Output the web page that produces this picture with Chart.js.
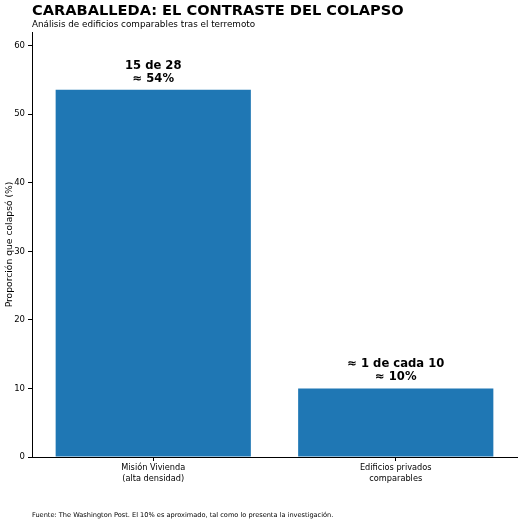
<!DOCTYPE html>
<html><head><meta charset="utf-8">
<script src="https://cdn.jsdelivr.net/npm/chart.js@4"></script>
<style>html,body{margin:0;padding:0;background:#fff;}#wrap{width:521px;height:524px;}</style>
</head><body><div id="wrap"><canvas id="c" width="521" height="524"></canvas></div>
<script>
const categories = [["Misión Vivienda", "(alta densidad)"], ["Edificios privados", "comparables"]];
const values = [15 / 28 * 100, 10];
const barLabels = [["15 de 28", "≈ 54%"], ["≈ 1 de cada 10", "≈ 10%"]];
const yTicks = [0, 10, 20, 30, 40, 50, 60];
const titleText = "CARABALLEDA: EL CONTRASTE DEL COLAPSO";
const subtitleText = "Análisis de edificios comparables tras el terremoto";
const yTitle = "Proporción que colapsó (%)";
const footerText = "Fuente: The Washington Post. El 10% es aproximado, tal como lo presenta la investigación.";

const FONT = "'DejaVu Sans', sans-serif";

const textPlugin = {
  id: 'texts',
  afterDraw(chart) {
    const ctx = chart.ctx;
    const area = chart.chartArea;
    ctx.save();
    ctx.fillStyle = '#000';
    ctx.textBaseline = 'middle';
    ctx.textAlign = 'left';
    ctx.font = "bold 14.6px " + FONT;
    ctx.fillText(titleText, 32, 11.5);
    ctx.font = "8.8px " + FONT;
    ctx.fillText(subtitleText, 32, 25);
    ctx.font = "6.6px " + FONT;
    ctx.fillText(footerText, 32, 515);
    // y title
    ctx.save();
    ctx.translate(9.5, (area.top + area.bottom) / 2);
    ctx.rotate(-Math.PI / 2);
    ctx.textAlign = 'center';
    ctx.font = "9.2px " + FONT;
    ctx.fillText(yTitle, 0, 0);
    ctx.restore();
    // bar annotations
    const meta = chart.getDatasetMeta(0);
    ctx.textAlign = 'center';
    ctx.font = "bold 11.6px " + FONT;
    meta.data.forEach((bar, i) => {
      const lines = barLabels[i];
      const n = lines.length;
      lines.forEach((ln, j) => {
        ctx.fillText(ln, bar.x, bar.y - 11 - (n - 1 - j) * 13);
      });
    });
    ctx.restore();
  }
};

new Chart(document.getElementById('c'), {
  type: 'bar',
  data: {
    labels: categories,
    datasets: [{
      data: values,
      backgroundColor: '#1f77b4',
      borderWidth: 0,
      barPercentage: 0.805,
      categoryPercentage: 1.0
    }]
  },
  options: {
    responsive: false,
    animation: false,
    devicePixelRatio: 1,
    layout: { padding: { top: 32, right: 4, left: 0, bottom: 0 } },
    plugins: { legend: { display: false }, tooltip: { enabled: false }, title: { display: false } },
    scales: {
      x: {
        grid: { display: true, offset: false, drawOnChartArea: false, drawTicks: true, tickLength: 4, color: '#000' },
        border: { display: true, color: '#000', width: 1 },
        ticks: { color: '#000', font: { family: FONT, size: 8.2, lineHeight: 1.25 }, padding: 2, maxRotation: 0 },
        afterFit(scale) { scale.height = 67; }
      },
      y: {
        min: 0, max: 62,
        grid: { display: true, drawOnChartArea: false, drawTicks: true, tickLength: 4, color: '#000' },
        border: { display: true, color: '#000', width: 1 },
        afterBuildTicks(scale) { scale.ticks = yTicks.map(v => ({ value: v })); },
        ticks: { color: '#000', font: { family: FONT, size: 8.5 }, padding: 3 },
        afterFit(scale) { scale.width = 32; }
      }
    }
  },
  plugins: [textPlugin]
});
</script>
</body></html>
